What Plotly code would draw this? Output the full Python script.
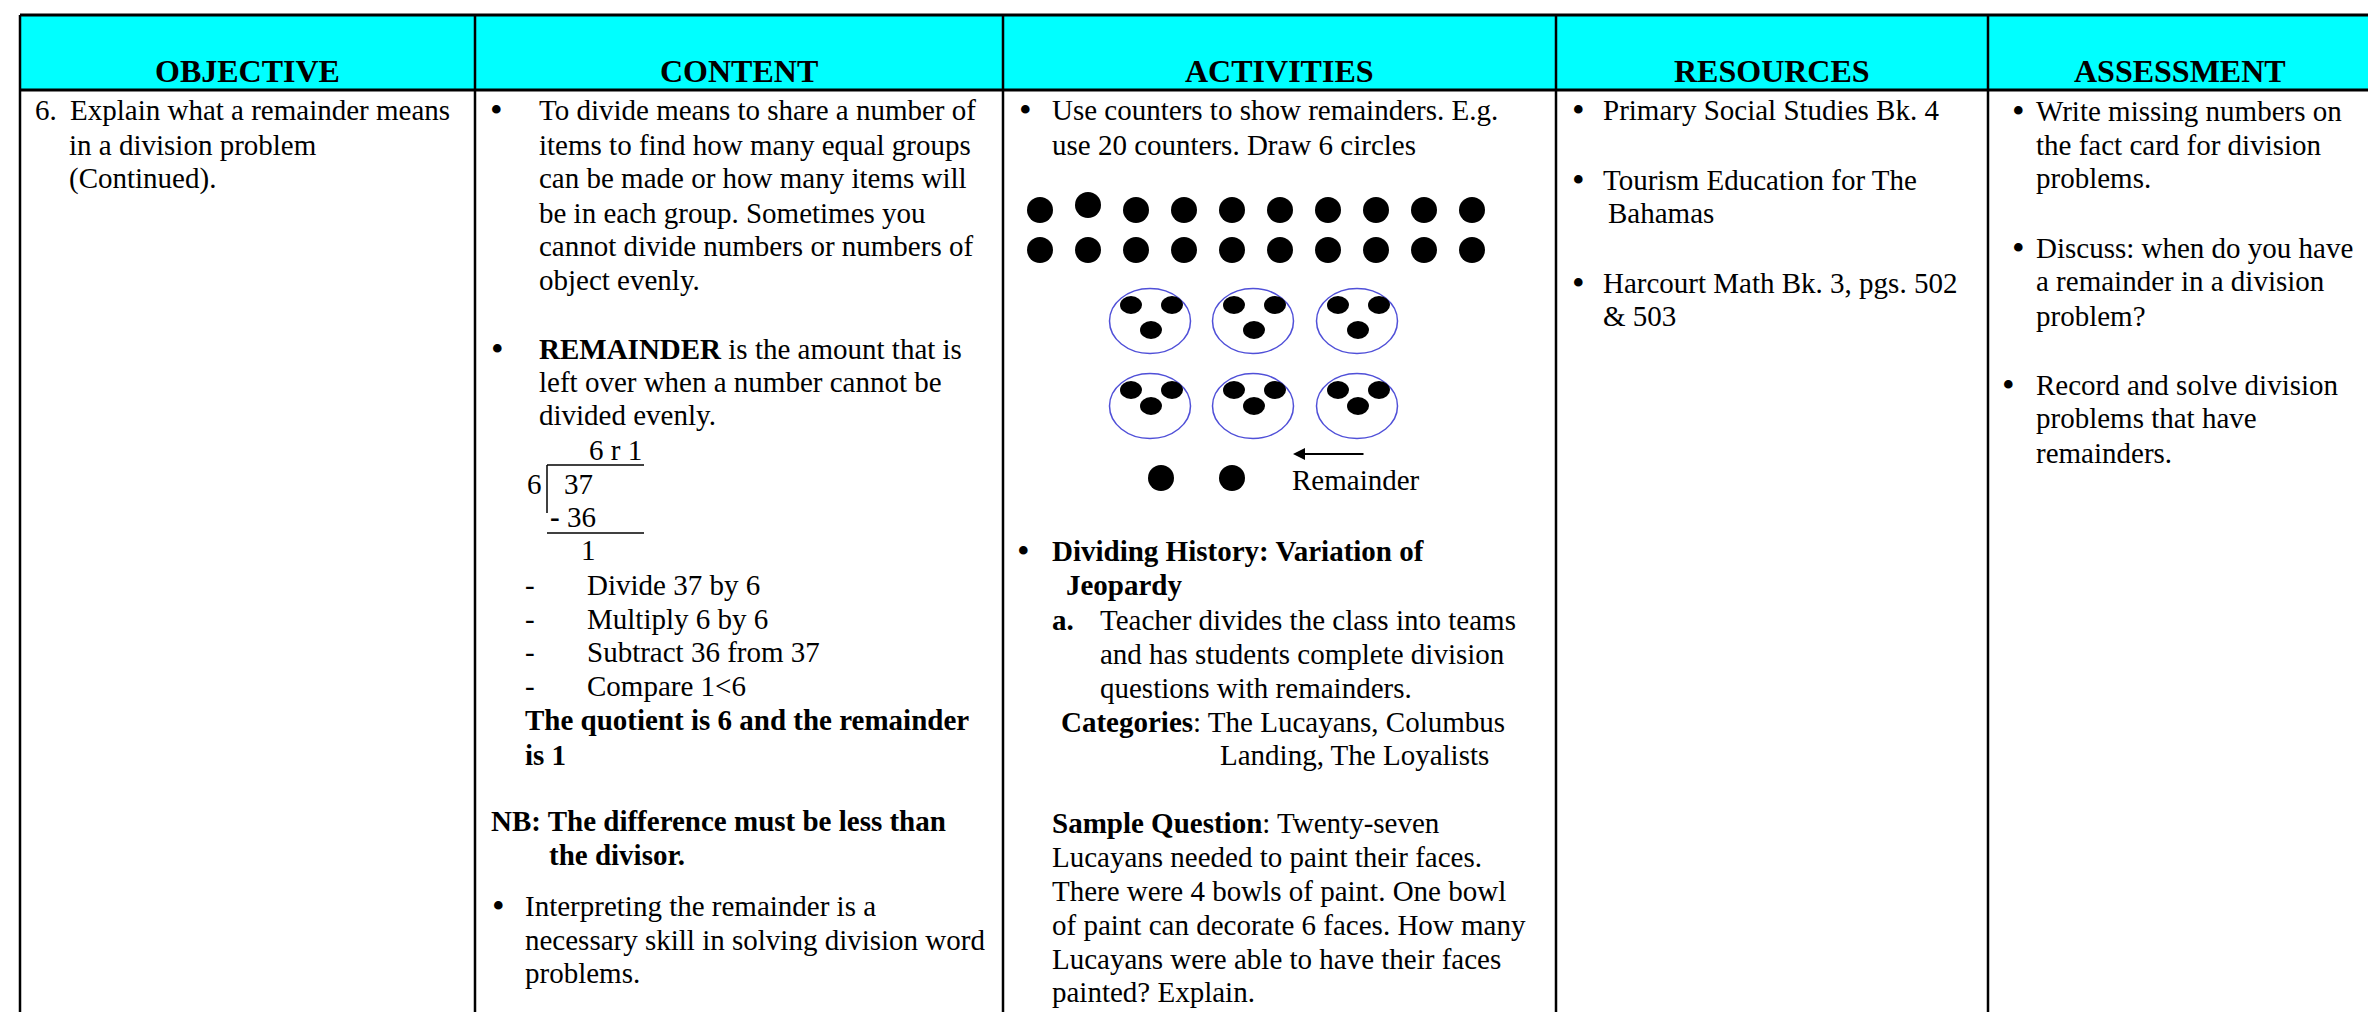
import plotly.graph_objects as go

# ---- content -------------------------------------------------------------
HEADERS = ["OBJECTIVE", "CONTENT", "ACTIVITIES", "RESOURCES", "ASSESSMENT"]

OBJECTIVE_TEXT = ["6.", "Explain what a remainder means", "in a division problem", "(Continued)."]

CONTENT_TEXT = [
    "•", "To divide means to share a number of",
    "items to find how many equal groups",
    "can be made or how many items will",
    "be in each group. Sometimes you",
    "cannot divide numbers or numbers of",
    "object evenly.",
    "•", "<b>REMAINDER</b> is the amount that is",
    "left over when a number cannot be",
    "divided evenly.",
]

DIVISION_TEXT = ["6 r 1", "6", "37", "<b>-</b> 36", "1"]

STEPS_TEXT = ["Divide 37 by 6", "Multiply 6 by 6", "Subtract 36 from 37", "Compare 1&lt;6"]

CONTENT_TAIL = [
    "<b>The quotient is 6 and the remainder</b>",
    "<b>is 1</b>",
    "<b>NB: The difference must be less than</b>",
    "<b>the divisor.</b>",
    "•", "Interpreting the remainder is a",
    "necessary skill in solving division word",
    "problems.",
]

ACTIVITIES_TEXT = [
    "•", "Use counters to show remainders. E.g.",
    "use 20 counters. Draw 6 circles",
    "Remainder",
    "•", "<b>Dividing History: Variation of</b>",
    "<b>Jeopardy</b>",
    "<b>a.</b>", "Teacher divides the class into teams",
    "and has students complete division",
    "questions with remainders.",
    "<b>Categories</b>: The Lucayans, Columbus",
    "Landing, The Loyalists",
    "<b>Sample Question</b>: Twenty-seven",
    "Lucayans needed to paint their faces.",
    "There were 4 bowls of paint. One bowl",
    "of paint can decorate 6 faces. How many",
    "Lucayans were able to have their faces",
    "painted? Explain.",
]

RESOURCES_TEXT = [
    "•", "Primary Social Studies Bk. 4",
    "•", "Tourism Education for The",
    "Bahamas",
    "•", "Harcourt Math Bk. 3, pgs. 502",
    "& 503",
]

ASSESSMENT_TEXT = [
    "•", "Write missing numbers on",
    "the fact card for division",
    "problems.",
    "•", "Discuss: when do you have",
    "a remainder in a division",
    "problem?",
    "•", "Record and solve division",
    "problems that have",
    "remainders.",
]

COUNTERS = 20
COUNTER_ROWS = 2
GROUPS = 6
PER_GROUP = 3
LEFT_OVER = 2

# ---- layout --------------------------------------------------------------
W, H = 2376, 1012
COL_EDGES = [12, 467, 995, 1548, 1980, 2364]
TOP, HEAD_BOTTOM = 7, 82
FONT = "Liberation Serif, Times New Roman, serif"
BODY = 29
BULLET = 36

OBJECTIVE_POS = [(27, 102), (62, 102), (61, 137), (61, 170)]
CONTENT_POS = [(488, 102), (531, 102), (531, 137), (531, 170), (531, 205), (531, 238), (531, 272),
               (489, 341), (531, 341), (531, 374), (531, 407)]
DIVISION_POS = [(581, 442), (519, 476), (556, 476), (542, 509), (573, 542)]
STEPS_Y = [577, 611, 644, 678]
CONTENT_TAIL_POS = [(517, 712), (517, 747), (483, 813), (541, 847),
                    (490, 898), (517, 898), (517, 932), (517, 965)]
ACTIVITIES_POS = [(1017, 102), (1044, 102), (1044, 137), (1284, 472),
                  (1015, 543), (1044, 543), (1058, 577), (1044, 612), (1092, 612),
                  (1092, 646), (1092, 680), (1053, 714), (1212, 747),
                  (1044, 815), (1044, 849), (1044, 883), (1044, 917), (1044, 951), (1044, 984)]
RESOURCES_POS = [(1570, 102), (1595, 102), (1570, 172), (1595, 172), (1600, 205),
                 (1570, 275), (1595, 275), (1595, 308)]
ASSESSMENT_POS = [(2010, 103), (2028, 103), (2028, 137), (2028, 170),
                  (2010, 240), (2028, 240), (2028, 273), (2028, 308),
                  (2000, 377), (2028, 377), (2028, 410), (2028, 445)]

fig = go.Figure()
annotations = []
shapes = []


def txt(x, y, s, size=BODY, anchor="left"):
    if s == "•":
        anchor, size = "center", BULLET
    annotations.append(dict(
        x=x, y=y, xref="x", yref="y", text=s, showarrow=False,
        xanchor=anchor, yanchor="middle", borderpad=0, borderwidth=0,
        font=dict(family=FONT, size=size, color="black"),
    ))


def line(x0, y0, x1, y1, w=2, color="black"):
    shapes.append(dict(type="line", x0=x0, y0=y0, x1=x1, y1=y1, xref="x", yref="y",
                       line=dict(color=color, width=w), layer="above"))


# header band and grid
shapes.append(dict(type="rect", x0=COL_EDGES[0], x1=COL_EDGES[-1], y0=TOP, y1=HEAD_BOTTOM,
                   xref="x", yref="y", fillcolor="#00FFFF", line=dict(width=0), layer="below"))
line(COL_EDGES[0], TOP, COL_EDGES[-1], TOP, 3)
line(COL_EDGES[0], HEAD_BOTTOM, COL_EDGES[-1], HEAD_BOTTOM, 3)
for xe in COL_EDGES:
    line(xe, TOP, xe, H, 2.5)

for i, h in enumerate(HEADERS):
    annotations.append(dict(
        x=(COL_EDGES[i] + COL_EDGES[i + 1]) / 2, y=63, xref="x", yref="y",
        text=f"<b>{h}</b>", showarrow=False, xanchor="center", yanchor="middle",
        borderpad=0, borderwidth=0, font=dict(family=FONT, size=32, color="black"),
    ))

for s, (x, y) in zip(OBJECTIVE_TEXT, OBJECTIVE_POS):
    txt(x, y, s)
for s, (x, y) in zip(CONTENT_TEXT, CONTENT_POS):
    txt(x, y, s)
for s, (x, y) in zip(DIVISION_TEXT, DIVISION_POS):
    txt(x, y, s)
for s, y in zip(STEPS_TEXT, STEPS_Y):
    txt(517, y, "-")
    txt(579, y, s)
for s, (x, y) in zip(CONTENT_TAIL, CONTENT_TAIL_POS):
    txt(x, y, s)
for s, (x, y) in zip(ACTIVITIES_TEXT, ACTIVITIES_POS):
    txt(x, y, s)
for s, (x, y) in zip(RESOURCES_TEXT, RESOURCES_POS):
    txt(x, y, s)
for s, (x, y) in zip(ASSESSMENT_TEXT, ASSESSMENT_POS):
    txt(x, y, s)

# long division bracket
line(539, 457, 636, 457, 1.5)
line(539, 457, 539, 505, 1.5)
line(539, 525, 636, 525, 1.5)

# counters: two rows
per_row = COUNTERS // COUNTER_ROWS
cx, cy = [], []
for r in range(COUNTER_ROWS):
    for c in range(per_row):
        cx.append(1032 + c * 48)
        cy.append(202 + r * 40)
cy[1] -= 5  # second counter sits a little higher in the original
fig.add_trace(go.Scatter(x=cx, y=cy, mode="markers", hoverinfo="skip",
                         marker=dict(size=26, color="black", line=dict(width=0))))

# groups of three inside blue ellipses
group_x = [1142, 1245, 1349]
group_y = [313, 398]
bottom_dy = [9, 0]
for g in range(GROUPS):
    gx = group_x[g % 3]
    row = g // 3
    gy = group_y[row]
    shapes.append(dict(type="circle", x0=gx - 40.5, x1=gx + 40.5, y0=gy - 32.5, y1=gy + 32.5,
                       xref="x", yref="y", line=dict(color="#5050d8", width=1.5), layer="above"))
    offs = [(-19, -16), (22, -16), (1, bottom_dy[row])][:PER_GROUP]
    for dx, dy in offs:
        shapes.append(dict(type="circle", x0=gx + dx - 11, x1=gx + dx + 11,
                           y0=gy + dy - 9, y1=gy + dy + 9, xref="x", yref="y",
                           fillcolor="black", line=dict(width=0), layer="above"))

# left-over counters and arrow
fig.add_trace(go.Scatter(x=[1153 + i * 71 for i in range(LEFT_OVER)], y=[470] * LEFT_OVER,
                         mode="markers", hoverinfo="skip",
                         marker=dict(size=26, color="black", line=dict(width=0))))
annotations.append(dict(x=1285, y=446, ax=1357, ay=446, xref="x", yref="y", axref="x", ayref="y",
                        text="", showarrow=True, arrowhead=2, arrowsize=1.2, arrowwidth=2,
                        arrowcolor="black"))

fig.update_layout(
    width=W, height=H, margin=dict(l=0, r=0, t=0, b=0),
    paper_bgcolor="white", plot_bgcolor="white", showlegend=False,
    xaxis=dict(range=[0, W], visible=False, fixedrange=True),
    yaxis=dict(range=[H, 0], visible=False, fixedrange=True),
    annotations=annotations, shapes=shapes,
)

fig.write_html("out.html")
